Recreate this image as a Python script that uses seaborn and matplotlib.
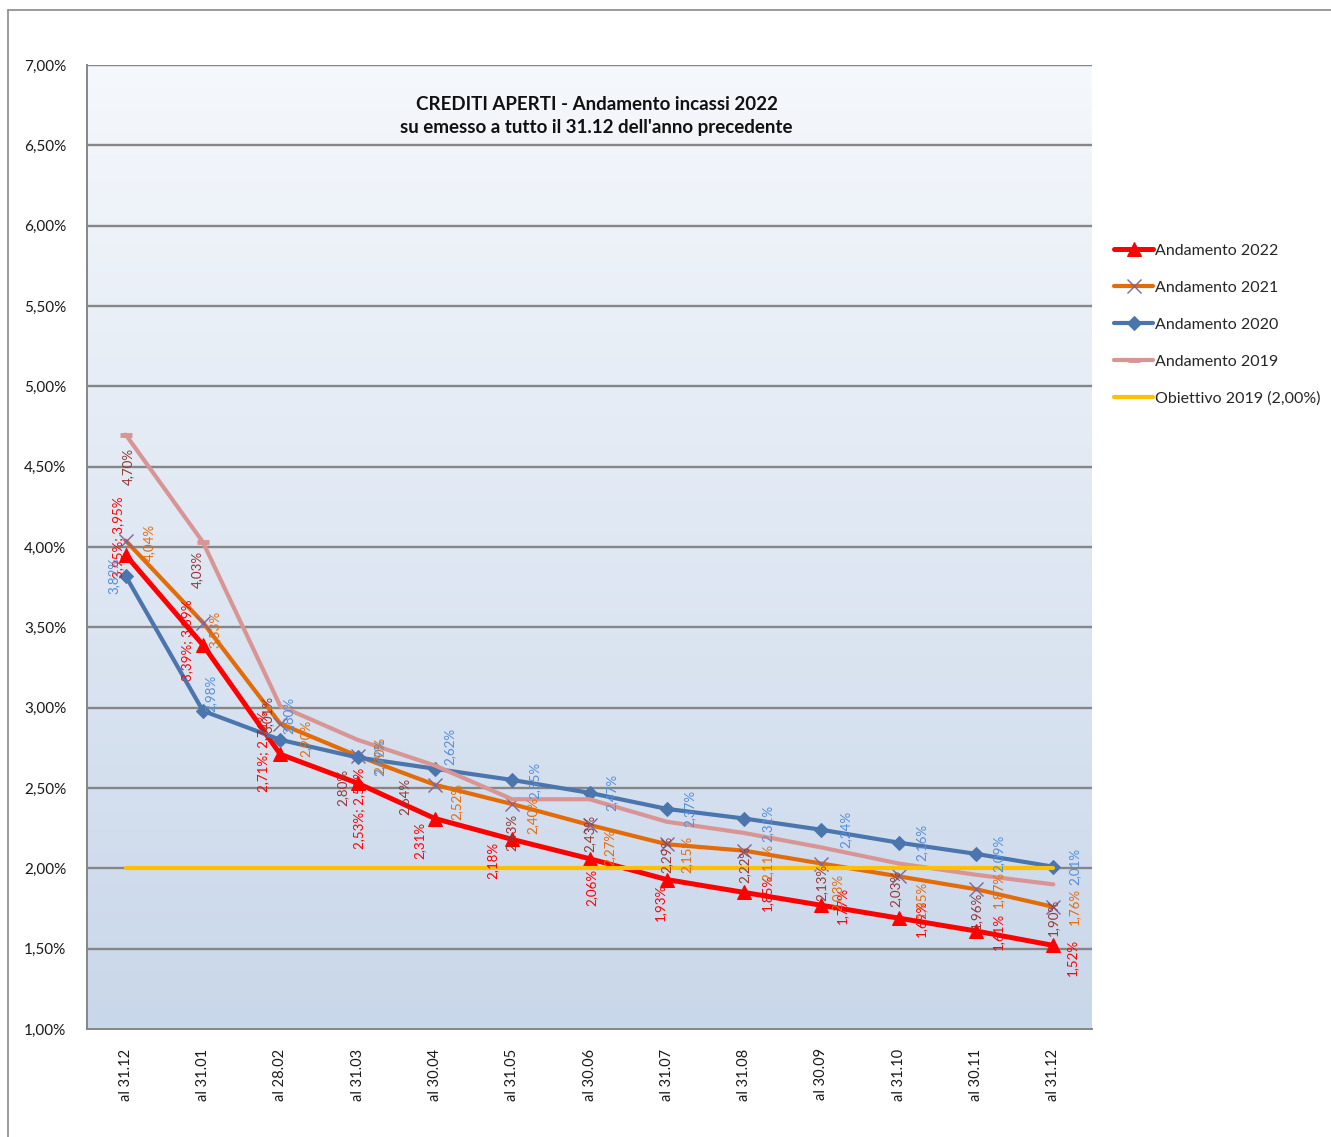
import numpy as np
import pandas as pd
import matplotlib
matplotlib.use("Agg")
import matplotlib.pyplot as plt
from matplotlib.lines import Line2D
from matplotlib.colors import LinearSegmentedColormap
import seaborn as sns

# ---- data -------------------------------------------------------------
categories = ["al 31.12", "al 31.01", "al 28.02", "al 31.03", "al 30.04", "al 31.05",
              "al 30.06", "al 31.07", "al 31.08", "al 30.09", "al 31.10", "al 30.11", "al 31.12"]
andamento_2022 = [3.95, 3.39, 2.71, 2.53, 2.31, 2.18, 2.06, 1.93, 1.85, 1.77, 1.69, 1.61, 1.52]
andamento_2021 = [4.04, 3.53, 2.90, 2.70, 2.52, 2.40, 2.27, 2.15, 2.11, 2.03, 1.95, 1.87, 1.76]
andamento_2020 = [3.82, 2.98, 2.80, 2.69, 2.62, 2.55, 2.47, 2.37, 2.31, 2.24, 2.16, 2.09, 2.01]
andamento_2019 = [4.70, 4.03, 3.01, 2.80, 2.64, 2.43, 2.43, 2.29, 2.22, 2.13, 2.03, 1.96, 1.90]
obiettivo_2019 = [2.00] * len(categories)

# label offsets (pixels) relative to each point
off_2022 = [(-7, 18), (-16, 5), (-17, 3), (2, -25), (-15, -22), (-20, -21), (2, -29),
            (-7, -23), (23, 0), (21, 0), (22, 0), (22, 0), (19, -12)]
off_2021 = [(23, -2), (12, -7), (25, -15), (22, 0), (22, -17), (20, -11), (20, -22),
            (20, -10), (23, -12), (16, -29), (22, -23), (22, 0), (21, 0)]
off_2020 = [(-12, 0), (8, 18), (8, 24), (22, 0), (15, 22), (22, 0), (22, 0),
            (23, 0), (23, -5), (24, 0), (23, 0), (22, 0), (21, 0)]
off_2019 = [(2, -32), (-6, -27), (-13, -8), (-15, -48), (-30, -31), (-1, -33), (0, -34),
            (0, -33), (0, -31), (0, -35), (-3, -25), (0, -36), (0, -33)]

x = np.arange(len(categories))

def pct(v):
    return f"{v:.2f}%".replace(".", ",")

# ---- figure -----------------------------------------------------------
sns.set_style("white")
plt.rcParams["font.family"] = ["Lato", "DejaVu Sans"]

W, H = 1331, 1137
fig = plt.figure(figsize=(W / 100, H / 100), dpi=100)
ax = fig.add_axes([87 / W, 1 - 1029 / H, (1092 - 87) / W, (1029 - 65) / H])

# gradient plot area: light at the top, deeper blue at the bottom
grad = LinearSegmentedColormap.from_list("bg", ["#F5F8FC", "#C9D7EA"])
ax.imshow(np.linspace(0, 1, 256).reshape(-1, 1), aspect="auto", cmap=grad,
          extent=(-0.5, 12.5, 1.0, 7.0), origin="upper", zorder=0)

ax.set_xlim(-0.5, 12.5)
ax.set_ylim(1.0, 7.0)

yt = np.arange(1.0, 7.01, 0.5)
ax.set_yticks(yt)
ax.set_yticklabels([pct(v) for v in yt], fontsize=11, color="#1a1a1a")
for v in yt[1:]:
    ax.axhline(v, color="#868686", lw=1.7, zorder=1)

ax.set_xticks(x)
ax.set_xticklabels(categories, rotation=90, fontsize=10.5, color="#1a1a1a")
ax.set_xticks(np.arange(-0.5, 12.6, 1.0), minor=True)
ax.tick_params(axis="x", which="major", length=0, pad=14)
ax.tick_params(axis="x", which="minor", length=6, width=1.2, color="#868686")
ax.tick_params(axis="y", which="major", length=8, width=1.2, color="#868686", pad=7)

for side in ["top", "right"]:
    ax.spines[side].set_visible(False)
for side in ["left", "bottom"]:
    ax.spines[side].set_color("#868686")
    ax.spines[side].set_linewidth(1.4)

# ---- series -----------------------------------------------------------
sns.lineplot(x=x, y=andamento_2022, ax=ax, color="#FF0000", lw=3.6, marker="^",
             markersize=10, markeredgecolor="#FF0000", label="Andamento 2022", zorder=3)
sns.lineplot(x=x, y=andamento_2021, ax=ax, color="#E36C09", lw=3.0, marker="x",
             markersize=10, markeredgecolor="#8064A2", markeredgewidth=1.0,
             label="Andamento 2021", zorder=4)
sns.lineplot(x=x, y=andamento_2020, ax=ax, color="#4A75AD", lw=3.0, marker="D",
             markersize=7, markeredgecolor="#4A75AD", label="Andamento 2020", zorder=5)
sns.lineplot(x=x, y=andamento_2019, ax=ax, color="#D99594", lw=3.0, marker="_",
             markersize=9, markeredgewidth=3.5, markeredgecolor="#D99594",
             markevery=[0, 1], label="Andamento 2019", zorder=6)
sns.lineplot(x=x, y=obiettivo_2019, ax=ax, color="#FFC000", lw=3.0,
             label="Obiettivo 2019 (2,00%)", zorder=7)

# ---- data labels --------------------------------------------------------
def add_labels(vals, offs, color, double=0):
    for i, (v, (dx, dy)) in enumerate(zip(vals, offs)):
        txt = f"{pct(v)}; {pct(v)}" if i < double else pct(v)
        ax.annotate(txt, (x[i], v), xytext=(dx, dy), textcoords="offset pixels",
                    rotation=90, ha="center", va="center", fontsize=9.6,
                    color=color, zorder=10)

add_labels(andamento_2022, off_2022, "#FF0000", double=4)
add_labels(andamento_2021, off_2021, "#E46C0A")
add_labels(andamento_2020, off_2020, "#558ED5")
add_labels(andamento_2019, off_2019, "#953735")

# ---- title ------------------------------------------------------------
ax.text(0.507, 0.947, "CREDITI APERTI - Andamento incassi 2022\n"
        "su emesso a tutto il 31.12 dell'anno precedente",
        transform=ax.transAxes, ha="center", va="center", fontsize=13.5,
        fontweight="bold", linespacing=1.4, color="#111111", zorder=11)

# ---- legend -----------------------------------------------------------
handles, labels = ax.get_legend_handles_labels()
ax.get_legend().remove()
fig.legend(handles, labels, loc="upper left", bbox_to_anchor=(1108 / W, 1 - 237 / H),
           frameon=False, fontsize=11.5, handlelength=2.4, handletextpad=0.15,
           labelspacing=1.43, borderaxespad=0)

# ---- outer chart border -----------------------------------------------
fig.add_artist(Line2D([8 / W, 8 / W], [0, 1 - 10 / H], transform=fig.transFigure,
                      color="#8A8A8A", lw=1.2))
fig.add_artist(Line2D([8 / W, 1], [1 - 10 / H, 1 - 10 / H], transform=fig.transFigure,
                      color="#8A8A8A", lw=1.2))

fig.savefig("out.png", dpi=100, facecolor="white")
